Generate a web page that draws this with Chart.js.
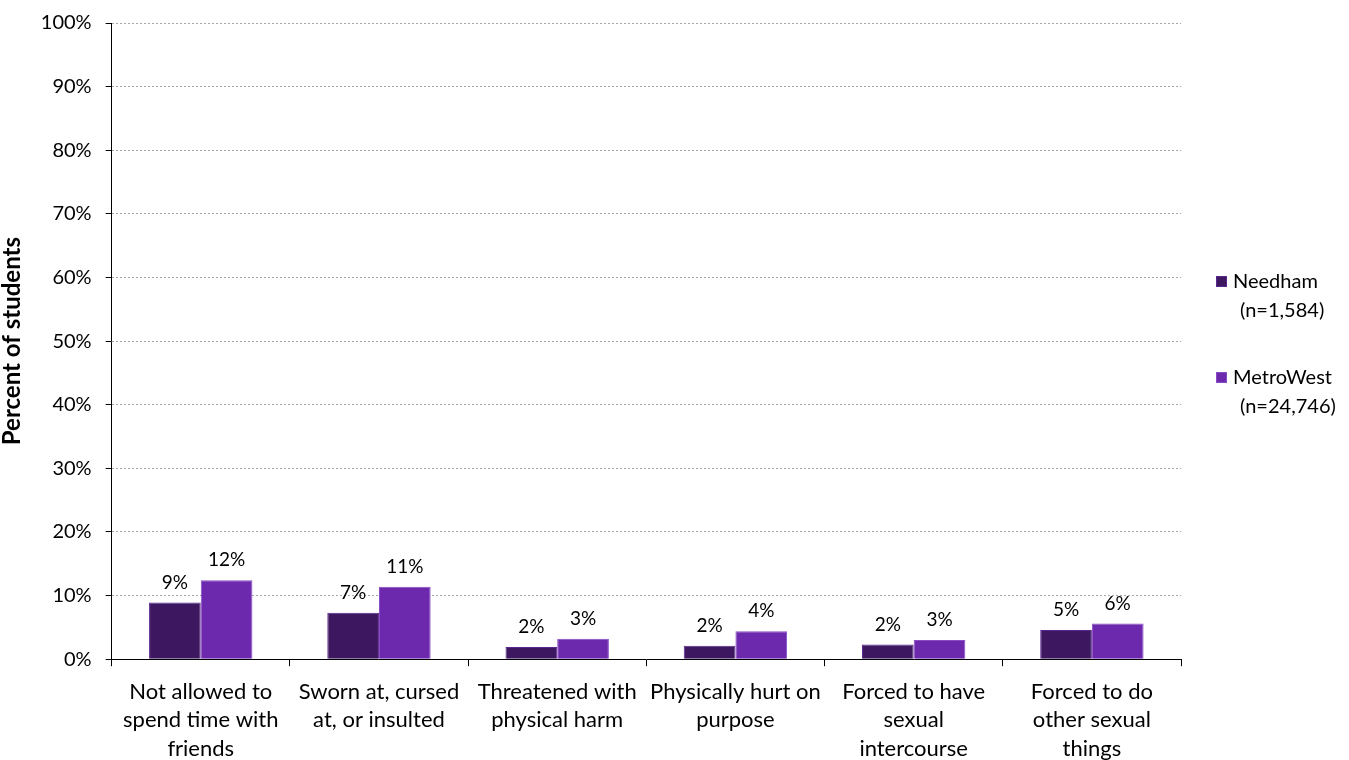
<!DOCTYPE html>
<html>
<head>
  <meta charset="UTF-8">
  <title>Dating violence</title>
  <script src="https://cdn.jsdelivr.net/npm/chart.js@4.4.1/dist/chart.umd.min.js"></script>
  <style>
    html, body {
      margin: 0;
      padding: 0;
      background: #fff;
    }
    #wrap {
      position: relative;
      width: 1349px;
      height: 760px;
    }
  </style>
</head>
<body>
<div id="wrap">
  <canvas id="chart"></canvas>
</div>

<script>
const categories = [
  ["Not allowed to", "spend time with", "friends"],
  ["Sworn at, cursed", "at, or insulted"],
  ["Threatened with", "physical harm"],
  ["Physically hurt on", "purpose"],
  ["Forced to have", "sexual", "intercourse"],
  ["Forced to do", "other sexual", "things"]
];
const seriesNames = ["Needham", "MetroWest"];
const seriesNotes = ["(n=1,584)", "(n=24,746)"];
const needham = [8.9, 7.3, 1.9, 2.1, 2.3, 4.6];
const metroWest = [12.4, 11.4, 3.2, 4.4, 3.0, 5.6];
const barColors = ["#3d1860", "#6d29ae"];
const borderColors = ["#5b2690", "#8a4cc4"];

const FONT = "Lato, 'Open Sans', sans-serif";

// value labels above each bar
const valueLabels = {
  id: "valueLabels",
  afterDatasetsDraw(chart) {
    const ctx = chart.ctx;
    ctx.save();
    ctx.font = "19px " + FONT;
    ctx.fillStyle = "#000";
    ctx.textAlign = "center";
    ctx.textBaseline = "alphabetic";
    chart.data.datasets.forEach((ds, i) => {
      chart.getDatasetMeta(i).data.forEach((bar, j) => {
        ctx.fillText(Math.round(ds.data[j]) + "%", bar.x, bar.y - 14);
      });
    });
    ctx.restore();
  }
};

// legend on the right, two lines per entry
const sideLegend = {
  id: "sideLegend",
  afterDraw(chart) {
    const ctx = chart.ctx;
    const x = chart.chartArea.right + 35;
    const tops = [276, 372];
    ctx.save();
    ctx.font = "20px " + FONT;
    ctx.textBaseline = "middle";
    ctx.textAlign = "left";
    chart.data.datasets.forEach((ds, i) => {
      const y = tops[i];
      ctx.fillStyle = ds.backgroundColor;
      ctx.fillRect(x, y, 11, 11);
      ctx.strokeStyle = ds.borderColor;
      ctx.lineWidth = 1;
      ctx.strokeRect(x + 0.5, y + 0.5, 10, 10);
      ctx.fillStyle = "#000";
      ctx.fillText(seriesNames[i], x + 17, y + 6);
      ctx.fillText(seriesNotes[i], x + 24, y + 35);
    });
    ctx.restore();
  }
};

new Chart(document.getElementById("chart"), {
  type: "bar",
  data: {
    labels: categories,
    datasets: [
      {
        label: seriesNames[0],
        data: needham,
        backgroundColor: barColors[0],
        borderColor: borderColors[0],
        borderWidth: 1,
        borderSkipped: "bottom"
      },
      {
        label: seriesNames[1],
        data: metroWest,
        backgroundColor: barColors[1],
        borderColor: borderColors[1],
        borderWidth: 1,
        borderSkipped: "bottom"
      }
    ]
  },
  options: {
    responsive: true,
    maintainAspectRatio: false,
    animation: false,
    layout: { padding: { top: 0, right: 168, left: -2, bottom: -14 } },
    datasets: {
      bar: { categoryPercentage: 0.58, barPercentage: 1.0 }
    },
    plugins: {
      legend: { display: false },
      tooltip: { enabled: false }
    },
    scales: {
      x: {
        grid: {
          offset: true,
          drawOnChartArea: false,
          tickLength: 7,
          color: "#000"
        },
        border: { color: "#000", width: 1 },
        ticks: {
          color: "#000",
          font: { family: FONT, size: 22, lineHeight: 1.3 },
          maxRotation: 0,
          autoSkip: false,
          padding: 11
        }
      },
      y: {
        min: 0,
        max: 100,
        ticks: {
          stepSize: 10,
          color: "#000",
          font: { family: FONT, size: 20, lineHeight: 0.9 },
          padding: 14,
          callback: v => v + "%"
        },
        grid: {
          color: "#a6a6a6",
          tickColor: "#000",
          tickLength: 6
        },
        border: { color: "#000", width: 1, dash: [2, 2] },
        title: {
          display: true,
          text: "Percent of students",
          color: "#000",
          font: { family: FONT, size: 24, weight: "bold" },
          padding: { top: 0, bottom: 0 }
        }
      }
    }
  },
  plugins: [valueLabels, sideLegend]
});
</script>
</body>
</html>
